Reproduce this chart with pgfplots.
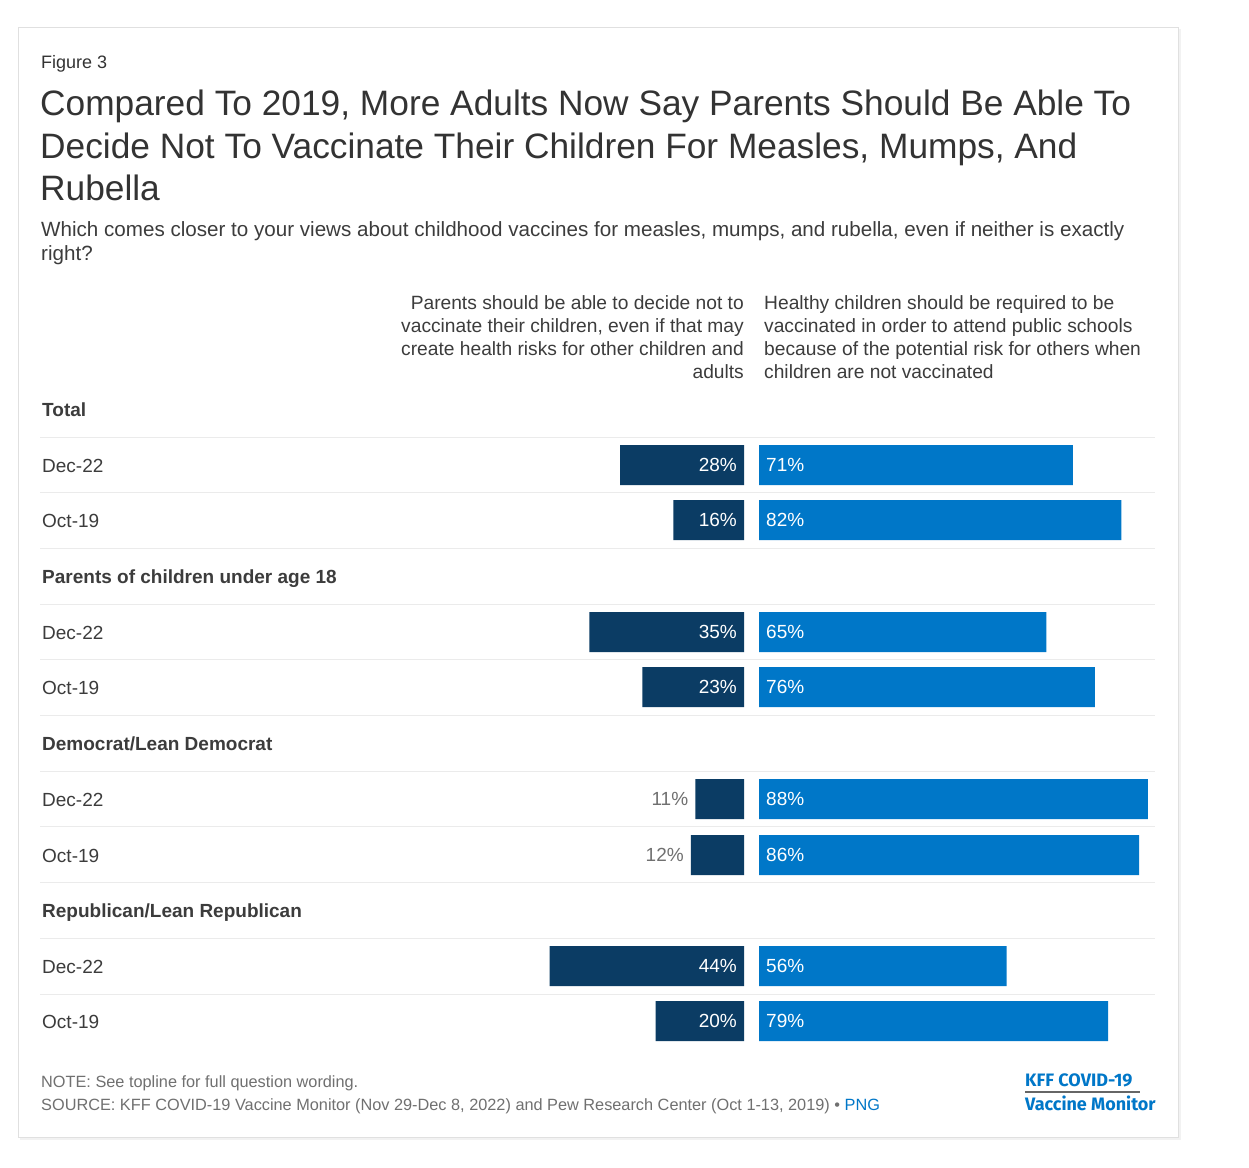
\documentclass[border=0pt]{standalone}
\usepackage{pgfplots}
\pgfplotsset{compat=1.18}
\usepackage{pgfplotstable}
\usepackage{fontspec}
\setmainfont{Liberation Sans}
\newfontfamily\kff{Fira Sans}
\definecolor{dark}{HTML}{0B3C64}
\definecolor{kblue}{HTML}{0077C8}
\definecolor{ttl}{HTML}{333333}
\definecolor{txt}{HTML}{3C3C3C}
\definecolor{foot}{HTML}{707070}
\definecolor{sep}{HTML}{EBEBEB}

\pgfplotstableread{
pos left right
465 28 71
520 16 82
632 35 65
687 23 76
799 11 88
855 12 86
966 44 56
1021 20 79
}\data

\newcommand{\fs}[2]{\fontsize{#1pt}{#2pt}\selectfont}

\pgfplotsset{barax/.style={hide axis, scale only axis, clip=false,
  x=4.42pt, y=1pt, y dir=reverse, ymin=380, ymax=1050, xmin=0,
  enlargelimits=false}}

\begin{document}
\begin{tikzpicture}
\useasboundingbox (0,0) rectangle (1249pt,-1167pt);
\fill[white] (0,0) rectangle (1249pt,-1167pt);
\fill[black!5] (20pt,-29pt) rectangle (1181pt,-1140pt);
\filldraw[fill=white, draw=black!12] (18pt,-27pt) rectangle (1178pt,-1137pt);

% titles
\node[anchor=base west, inner sep=0, text=ttl, font=\fs{18}{22}] at (41pt,-68pt) {Figure 3};
\node[anchor=base west, inner sep=0, text=ttl, font=\fs{35.3}{43}] at (40pt,-115pt) {Compared To 2019, More Adults Now Say Parents Should Be Able To};
\node[anchor=base west, inner sep=0, text=ttl, font=\fs{35.3}{43}] at (40pt,-158pt) {Decide Not To Vaccinate Their Children For Measles, Mumps, And};
\node[anchor=base west, inner sep=0, text=ttl, font=\fs{35.3}{43}] at (40pt,-200pt) {Rubella};
\node[anchor=base west, inner sep=0, text=txt, font=\fs{20.6}{23}] at (41pt,-236pt) {Which comes closer to your views about childhood vaccines for measles, mumps, and rubella, even if neither is exactly};
\node[anchor=base west, inner sep=0, text=txt, font=\fs{20.6}{23}] at (41pt,-260pt) {right?};

% column headers
\foreach \t [count=\i from 0] in {Parents should be able to decide not to,{vaccinate their children, even if that may},create health risks for other children and,adults}
  \node[anchor=base east, inner sep=0, text=txt, font=\fs{19.2}{23}] at (744pt,-309pt-\i*23pt) {\t};
\foreach \t [count=\i from 0] in {Healthy children should be required to be,vaccinated in order to attend public schools,because of the potential risk for others when,children are not vaccinated}
  \node[anchor=base west, inner sep=0, text=txt, font=\fs{19.2}{23}] at (764pt,-309pt-\i*23pt) {\t};

% separators
\foreach \y in {437,492.7,548.4,604.1,659.8,715.5,771.2,826.9,882.6,938.3,994}
  \draw[sep, line width=1pt] (40pt,-\y pt) -- (1155pt,-\y pt);

% group headers and row labels
\foreach \y/\t in {416/{Total},583/{Parents of children under age 18},750/{Democrat/Lean Democrat},917/{Republican/Lean Republican}}
  \node[anchor=base west, inner sep=0, text=txt, font=\fs{19}{23}\bfseries] at (42pt,-\y pt) {\t};
\foreach \y in {472,639,806,973}
  \node[anchor=base west, inner sep=0, text=txt, font=\fs{19}{23}] at (42pt,-\y pt) {Dec-22};
\foreach \y in {527,694,862,1028}
  \node[anchor=base west, inner sep=0, text=txt, font=\fs{19}{23}] at (42pt,-\y pt) {Oct-19};

% left bars
\begin{axis}[barax, x dir=reverse, xmax=160, at={(744pt,-380pt)}, anchor=north east]
\addplot[xbar, fill=dark, draw=none, bar width=40pt] table[x=left, y=pos] {\data};
\addplot[draw=none, mark=none, point meta=explicit symbolic, nodes near coords,
  nodes near coords style={anchor=east, xshift=-7pt, inner sep=0pt, text=white, font=\fs{19}{23}}]
  coordinates {(0,465) [28\%] (0,520) [16\%] (0,632) [35\%] (0,687) [23\%] (0,966) [44\%] (0,1021) [20\%]};
\addplot[draw=none, mark=none, point meta=explicit symbolic, nodes near coords,
  nodes near coords style={anchor=east, xshift=-7pt, inner sep=0pt, text=foot, font=\fs{19}{23}}]
  coordinates {(11,799) [11\%] (12,855) [12\%]};
\end{axis}

% right bars
\begin{axis}[barax, xmax=90, at={(759pt,-380pt)}, anchor=north west]
\addplot[xbar, fill=kblue, draw=none, bar width=40pt] table[x=right, y=pos] {\data};
\addplot[draw=none, mark=none, point meta=explicit symbolic, nodes near coords,
  nodes near coords style={anchor=west, xshift=7pt, inner sep=0pt, text=white, font=\fs{19}{23}}]
  coordinates {(0,465) [71\%] (0,520) [82\%] (0,632) [65\%] (0,687) [76\%] (0,799) [88\%] (0,855) [86\%] (0,966) [56\%] (0,1021) [79\%]};
\end{axis}

% footer
\node[anchor=base west, inner sep=0, text=foot, font=\fs{16.3}{19}] at (41pt,-1087pt) {NOTE: See topline for full question wording.};
\node[anchor=base west, inner sep=0, text=foot, font=\fs{16.3}{19}] at (41pt,-1110pt) {SOURCE: KFF COVID-19 Vaccine Monitor (Nov 29-Dec 8, 2022) and Pew Research Center (Oct 1-13, 2019) \textbullet\ \textcolor{kblue}{PNG}};
\node[anchor=base west, inner sep=0, text=kblue, font=\kff\fs{18}{22}\bfseries] at (1025pt,-1086pt) {KFF COVID-19};
\draw[black!60, line width=1.2pt] (1025pt,-1092pt) -- (1140pt,-1092pt);
\node[anchor=base west, inner sep=0, text=kblue, font=\kff\fs{18}{22}\bfseries] at (1025pt,-1110pt) {Vaccine Monitor};
\end{tikzpicture}
\end{document}
